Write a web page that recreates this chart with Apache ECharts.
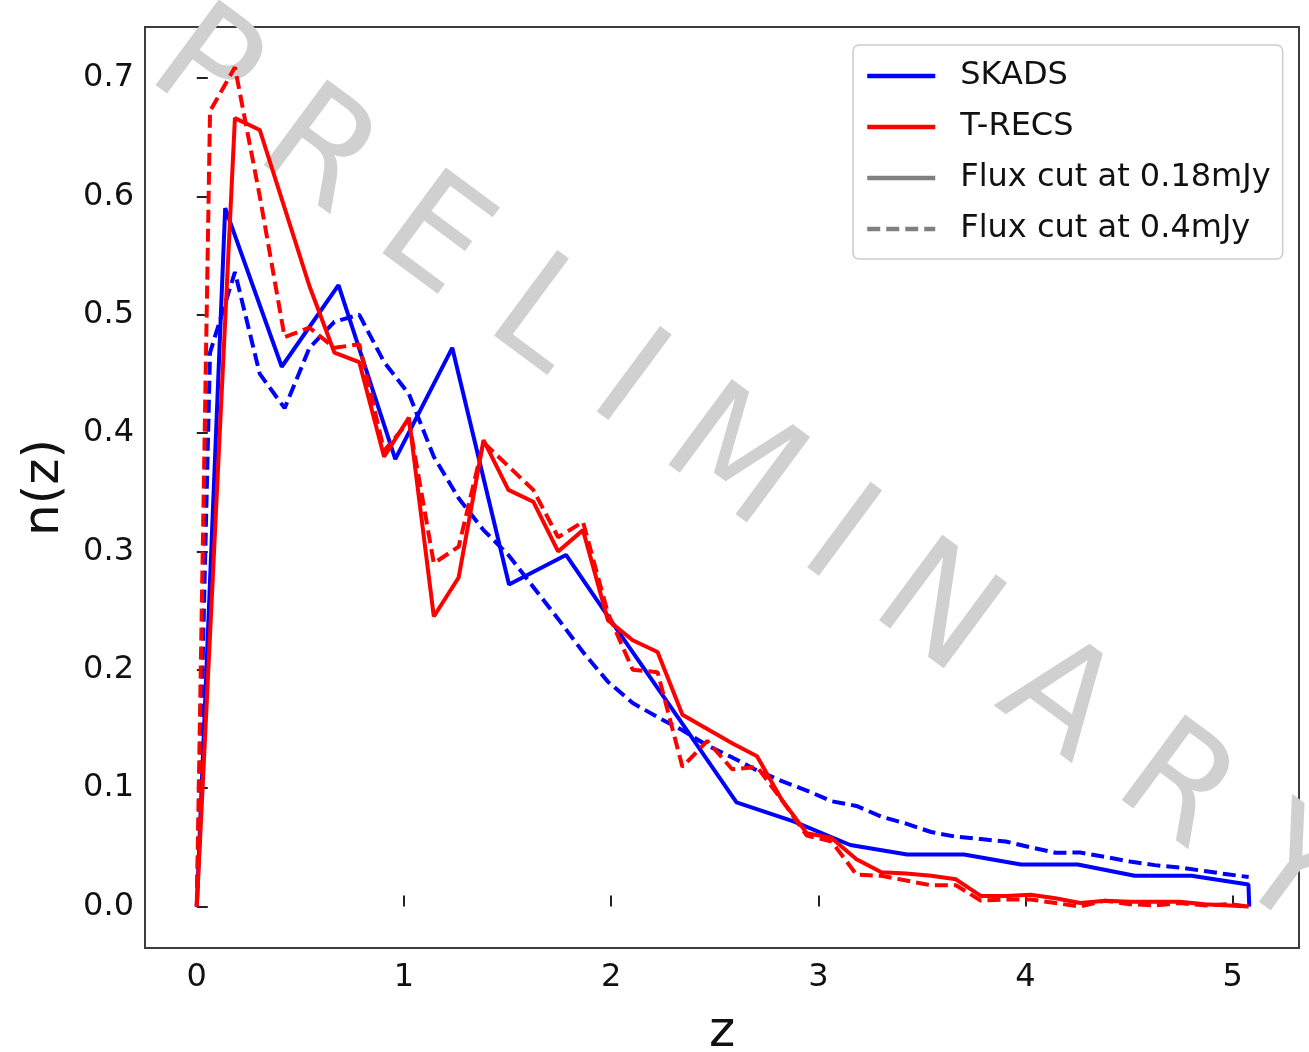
<!DOCTYPE html>
<html><head><meta charset="utf-8">
<script src="https://cdn.jsdelivr.net/npm/echarts@6/dist/echarts.min.js"></script>
<style>html,body{margin:0;padding:0;background:#fff;overflow:hidden}#c{width:1309px;height:1052px}</style>
</head><body><div id="c"></div>
<script>
// SKADS, flux cut 0.18 mJy (coarse bins)
const skadsZ018 = [0, 0.137, 0.41, 0.684, 0.958, 1.233, 1.507, 1.782, 2.056, 2.33, 2.605, 2.88, 3.154, 3.429, 3.703, 3.978, 4.252, 4.527, 4.801, 5.076, 5.08];
const skadsN018 = [0, 0.59, 0.456, 0.525, 0.378, 0.472, 0.272, 0.297, 0.227, 0.158, 0.088, 0.072, 0.052, 0.044, 0.044, 0.0355, 0.0355, 0.026, 0.026, 0.0186, 0];

// fine bins (T-RECS both cuts, SKADS 0.4 mJy)
const fineZ = [0, 0.064, 0.184, 0.304, 0.424, 0.544, 0.664, 0.784, 0.904, 1.024, 1.144, 1.264, 1.384, 1.504, 1.624, 1.744, 1.864, 1.984, 2.104, 2.224, 2.344, 2.464, 2.584, 2.704, 2.824, 2.944, 3.064, 3.184, 3.304, 3.424, 3.544, 3.664, 3.784, 3.904, 4.024, 4.144, 4.264, 4.384, 4.504, 4.624, 4.744, 4.864, 4.984, 5.077];
const skadsN04 = [0, 0.468, 0.536, 0.45, 0.421, 0.472, 0.494, 0.5, 0.46, 0.433, 0.38, 0.345, 0.318, 0.297, 0.27, 0.243, 0.215, 0.19, 0.172, 0.16, 0.149, 0.136, 0.126, 0.115, 0.106, 0.098, 0.089, 0.085, 0.076, 0.07, 0.063, 0.059, 0.057, 0.055, 0.05, 0.0455, 0.0456, 0.042, 0.038, 0.035, 0.033, 0.03, 0.027, 0.025];
const trecsN018 = [0, 0.23, 0.666, 0.656, 0.59, 0.524, 0.468, 0.46, 0.38, 0.413, 0.245, 0.278, 0.394, 0.352, 0.342, 0.30, 0.318, 0.242, 0.225, 0.215, 0.162, 0.15, 0.138, 0.127, 0.09, 0.062, 0.058, 0.04, 0.029, 0.028, 0.026, 0.023, 0.009, 0.009, 0.01, 0.007, 0.003, 0.005, 0.004, 0.004, 0.004, 0.002, 0.001, 0];
const trecsN04 = [0, 0.672, 0.709, 0.60, 0.481, 0.489, 0.472, 0.475, 0.385, 0.41, 0.29, 0.304, 0.392, 0.372, 0.352, 0.312, 0.325, 0.248, 0.2, 0.198, 0.118, 0.14, 0.116, 0.118, 0.09, 0.06, 0.055, 0.027, 0.026, 0.022, 0.018, 0.018, 0.005, 0.006, 0.006, 0.003, 0.0, 0.005, 0.002, 0.001, 0.003, 0.001, 0.002, 0.0];

const xTicks = [0, 1, 2, 3, 4, 5];
const yTicks = [0, 0.1, 0.2, 0.3, 0.4, 0.5, 0.6, 0.7];
const legendNames = ['SKADS', 'T-RECS', 'Flux cut at 0.18mJy', 'Flux cut at 0.4mJy'];

const zip = (xs, ys) => xs.map((x, i) => [x, ys[i]]);
const FONT = 'DejaVu Sans';
const DASH = [13, 6];
const LW = 4;

const chart = echarts.init(document.getElementById('c'), null, {renderer: 'canvas'});
chart.setOption({
  animation: false,
  grid: {left: 145, right: 10, top: 27, bottom: 104, outerBoundsMode: 'none', containLabel: false,
    show: true, borderColor: '#3c3c3c', borderWidth: 2, backgroundColor: 'transparent'},
  xAxis: {
    type: 'value', min: -0.25, max: 5.32,
    name: 'z', nameLocation: 'middle', nameGap: 60,
    nameTextStyle: {fontFamily: FONT, fontSize: 50, color: '#111'},
    axisLine: {show: false}, splitLine: {show: false},
    axisTick: {show: true, inside: true, length: 11, customValues: xTicks, lineStyle: {color: '#222', width: 2}},
    axisLabel: {customValues: xTicks, fontFamily: FONT, fontSize: 32, color: '#111', margin: 14}
  },
  yAxis: {
    type: 'value', min: -0.035, max: 0.743,
    name: 'n(z)', nameLocation: 'middle', nameGap: 75, nameRotate: 90,
    nameTextStyle: {fontFamily: FONT, fontSize: 50, color: '#111'},
    axisLine: {show: false}, splitLine: {show: false},
    axisTick: {show: true, inside: true, length: 11, customValues: yTicks, lineStyle: {color: '#222', width: 2}},
    axisLabel: {customValues: yTicks, fontFamily: FONT, fontSize: 32, color: '#111', margin: 11,
      formatter: v => v.toFixed(1)}
  },
  legend: {
    data: legendNames, orient: 'vertical', left: 853, top: 45,
    padding: [15, 12, 14, 12], itemGap: 19, itemWidth: 68, itemHeight: 14,
    backgroundColor: 'rgba(255,255,255,0.9)', borderColor: '#cccccc', borderWidth: 1.5, borderRadius: 6,
    selectedMode: false,
    itemStyle: {opacity: 0},
    lineStyle: {width: 4.5},
    textStyle: {fontFamily: FONT, fontSize: 32, color: '#111', padding: [0, 0, 0, 20]}
  },
  graphic: [{
    type: 'text', x: 745, y: 474, rotation: -36.5 * Math.PI / 180, z: 1, silent: true,
    style: {text: 'P R E L I M I N A R Y', fontSize: 146, fontFamily: FONT, fill: '#d0d0d0', align: 'center', verticalAlign: 'middle'}
  }],
  series: [
    {name: 'SKADS', type: 'line', data: zip(skadsZ018, skadsN018), symbol: 'none', z: 3,
      lineStyle: {color: '#0000ff', width: LW}, itemStyle: {color: '#0000ff'}},
    {name: 'SKADS 0.4mJy', type: 'line', data: zip(fineZ, skadsN04), symbol: 'none', z: 3,
      lineStyle: {color: '#0000ff', width: LW, type: DASH}, itemStyle: {color: '#0000ff'}},
    {name: 'T-RECS', type: 'line', data: zip(fineZ, trecsN018), symbol: 'none', z: 3,
      lineStyle: {color: '#ff0000', width: LW}, itemStyle: {color: '#ff0000'}},
    {name: 'T-RECS 0.4mJy', type: 'line', data: zip(fineZ, trecsN04), symbol: 'none', z: 3,
      lineStyle: {color: '#ff0000', width: LW, type: DASH}, itemStyle: {color: '#ff0000'}},
    {name: 'Flux cut at 0.18mJy', type: 'line', data: [], symbol: 'none',
      lineStyle: {color: '#808080', width: LW}, itemStyle: {color: '#808080'}},
    {name: 'Flux cut at 0.4mJy', type: 'line', data: [], symbol: 'none',
      lineStyle: {color: '#808080', width: LW, type: DASH}, itemStyle: {color: '#808080'}}
  ]
});
</script>
</body></html>
